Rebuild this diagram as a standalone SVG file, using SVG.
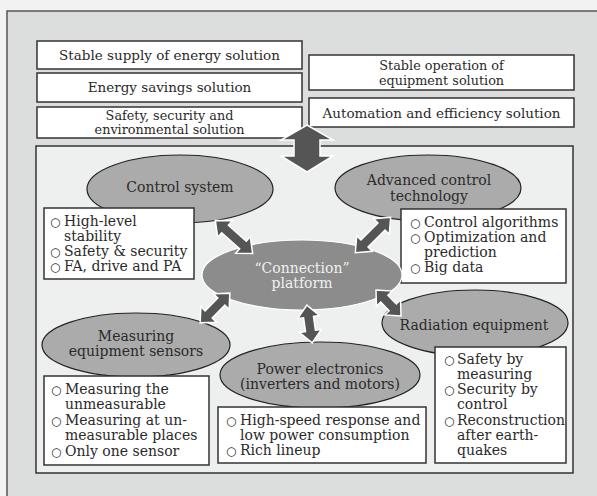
<svg xmlns="http://www.w3.org/2000/svg" width="597" height="496" viewBox="0 0 597 496">
<style>
text{font-family:"DejaVu Serif","Liberation Serif",serif;fill:#2a2a2a;}
.h{font-size:13.5px;text-anchor:middle;}
.h2{font-size:12.8px;text-anchor:middle;}
.l{font-size:14px;}
.b{font-size:12px;}
.e{font-size:14px;text-anchor:middle;}
.box{fill:#fff;stroke:#333;stroke-width:1.5;}
.ell{fill:#ababab;stroke:#222;stroke-width:1.2;}
.arr{fill:#555;stroke:#fff;stroke-width:1.5;stroke-linejoin:miter;}
</style>
<rect x="0" y="0" width="597" height="496" fill="#f2f2f2"/>
<rect x="7" y="11" width="600" height="500" fill="#dcdedd" stroke="#555" stroke-width="1.5"/>
<g id="sol-stable-supply"><rect class="box" x="37" y="41" width="265" height="28"/><text class="h" x="169.5" y="60">Stable supply of energy solution</text></g>
<g id="sol-energy-savings"><rect class="box" x="37" y="73" width="265" height="29"/><text class="h" x="169.5" y="92">Energy savings solution</text></g>
<g id="sol-safety"><rect class="box" x="37" y="107" width="265" height="31"/><text class="h2" x="169.5" y="119.5">Safety, security and</text><text class="h2" x="169.5" y="134">environmental solution</text></g>
<g id="sol-stable-operation"><rect class="box" x="309" y="55" width="265" height="35"/><text class="h2" x="441.5" y="69.5">Stable operation of</text><text class="h2" x="441.5" y="84.5">equipment solution</text></g>
<g id="sol-automation"><rect class="box" x="309" y="98" width="265" height="29"/><text class="h" x="441.5" y="117.5">Automation and efficiency solution</text></g>
<g id="panel"><rect x="36" y="146" width="537" height="327" fill="#eef0ef" stroke="#333" stroke-width="1.5"/></g>
<g id="control-system"><ellipse class="ell" cx="180" cy="189" rx="93" ry="34"/><text class="e" x="180" y="192">Control system</text>
<rect class="box" x="44" y="208" width="150" height="71"/>
<text class="l"><tspan class="b" x="50" y="226">○</tspan><tspan x="64" y="226">High-level</tspan></text>
<text class="l" x="64" y="241">stability</text>
<text class="l"><tspan class="b" x="50" y="256">○</tspan><tspan x="64" y="256">Safety &amp; security</tspan></text>
<text class="l"><tspan class="b" x="50" y="271">○</tspan><tspan x="64" y="271">FA, drive and PA</tspan></text></g>
<g id="advanced-control"><ellipse class="ell" cx="428" cy="188" rx="93" ry="33"/><text class="e" x="429" y="185">Advanced control</text><text class="e" x="429" y="201">technology</text>
<rect class="box" x="401" y="209" width="165" height="74"/>
<text class="l"><tspan class="b" x="410" y="227">○</tspan><tspan x="424" y="227">Control algorithms</tspan></text>
<text class="l"><tspan class="b" x="410" y="242">○</tspan><tspan x="424" y="242">Optimization and</tspan></text>
<text class="l" x="424" y="257">prediction</text>
<text class="l"><tspan class="b" x="410" y="272">○</tspan><tspan x="424" y="272">Big data</tspan></text></g>
<g id="connection-platform"><ellipse cx="302" cy="275" rx="100" ry="35" fill="#8c8c8c" stroke="#fff" stroke-width="1.2"/><text class="e" x="302" y="273" style="fill:#f0f0f0">“Connection”</text><text class="e" x="302" y="288" style="fill:#f0f0f0">platform</text></g>
<g id="measuring-sensors"><ellipse class="ell" cx="136" cy="345" rx="94" ry="32"/><text class="e" x="136" y="341">Measuring</text><text class="e" x="136" y="356">equipment sensors</text>
<rect class="box" x="44" y="376" width="165" height="89"/>
<text class="l"><tspan class="b" x="51" y="394">○</tspan><tspan x="65" y="394">Measuring the</tspan></text>
<text class="l" x="65" y="409">unmeasurable</text>
<text class="l"><tspan class="b" x="51" y="425">○</tspan><tspan x="65" y="425">Measuring at un-</tspan></text>
<text class="l" x="65" y="440">measurable places</text>
<text class="l"><tspan class="b" x="51" y="456">○</tspan><tspan x="65" y="456">Only one sensor</tspan></text></g>
<g id="power-electronics"><ellipse class="ell" cx="320" cy="375" rx="100" ry="33"/><text class="e" x="320" y="374">Power electronics</text><text class="e" x="320" y="389">(inverters and motors)</text>
<rect class="box" x="218" y="407" width="208" height="56"/>
<text class="l"><tspan class="b" x="226" y="425">○</tspan><tspan x="240" y="425">High-speed response and</tspan></text>
<text class="l" x="240" y="440">low power consumption</text>
<text class="l"><tspan class="b" x="226" y="455">○</tspan><tspan x="240" y="455">Rich lineup</tspan></text></g>
<g id="radiation-equipment"><ellipse class="ell" cx="475" cy="323" rx="93" ry="33"/><text class="e" x="474" y="330">Radiation equipment</text>
<rect class="box" x="435" y="347" width="131" height="116"/>
<text class="l"><tspan class="b" x="444" y="364">○</tspan><tspan x="457" y="364">Safety by</tspan></text>
<text class="l" x="457" y="379">measuring</text>
<text class="l"><tspan class="b" x="444" y="394">○</tspan><tspan x="457" y="394">Security by</tspan></text>
<text class="l" x="457" y="409">control</text>
<text class="l"><tspan class="b" x="444" y="425">○</tspan><tspan x="457" y="425">Reconstruction</tspan></text>
<text class="l" x="457" y="440">after earth-</text>
<text class="l" x="457" y="455">quakes</text></g>
<g id="connectors">
<polygon class="arr" points="307,125 333,140 320,140 320,156 333,156 307,172 281,156 294,156 294,140 281,140"/>
<polygon class="arr" transform="translate(234,237) rotate(41.6)" points="-25,0 -12,-11 -12,-5 12,-5 12,-11 25,0 12,11 12,5 -12,5 -12,11"/>
<polygon class="arr" transform="translate(373,235) rotate(-45)" points="-25,0 -12,-11 -12,-5 12,-5 12,-11 25,0 12,11 12,5 -12,5 -12,11"/>
<polygon class="arr" transform="translate(215,308) rotate(-45)" points="-21,0 -9,-11 -9,-5 9,-5 9,-11 21,0 9,11 9,5 -9,5 -9,11"/>
<polygon class="arr" transform="translate(309.5,324) rotate(82)" points="-19,0 -7,-11 -7,-5 7,-5 7,-11 19,0 7,11 7,5 -7,5 -7,11"/>
<polygon class="arr" transform="translate(388.5,303) rotate(46)" points="-18,0 -6,-11 -6,-5 6,-5 6,-11 18,0 6,11 6,5 -6,5 -6,11"/>
</g>
</svg>
